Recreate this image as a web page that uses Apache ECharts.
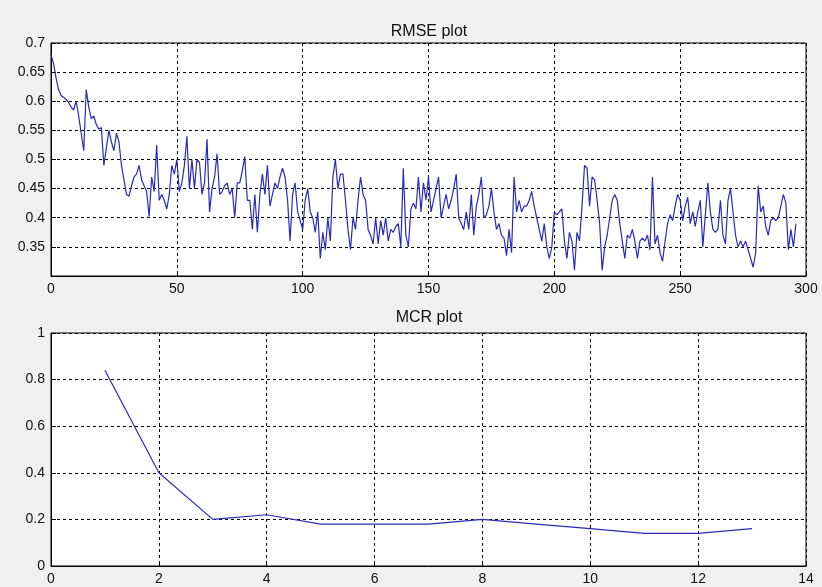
<!DOCTYPE html>
<html>
<head>
<meta charset="utf-8">
<script src="https://cdn.jsdelivr.net/npm/echarts@6/dist/echarts.min.js"></script>
<style>
	html, body { margin: 0; padding: 0; background: #f0f0f0; }
	#show { width: 822px; height: 587px; }
</style>
</head>
<body>
<div id="show"></div>
<script>
	// RMSE 数据 (x = 0..296)
	var rmseData = [
		0.68,0.665,0.64,0.62,0.61,0.607,0.603,0.598,0.59,0.585,
		0.60,0.575,0.545,0.515,0.62,0.59,0.57,0.575,0.56,0.552,
		0.555,0.49,0.52,0.55,0.53,0.515,0.545,0.53,0.49,0.465,
		0.44,0.437,0.455,0.47,0.475,0.49,0.465,0.455,0.445,0.402,
		0.47,0.445,0.525,0.43,0.44,0.43,0.415,0.44,0.49,0.475,
		0.5,0.445,0.46,0.49,0.54,0.45,0.5,0.45,0.5,0.495,
		0.44,0.46,0.535,0.41,0.45,0.47,0.51,0.44,0.445,0.455,
		0.46,0.44,0.45,0.40,0.46,0.46,0.48,0.505,0.43,0.43,
		0.38,0.44,0.375,0.44,0.475,0.44,0.49,0.42,0.44,0.46,
		0.45,0.47,0.485,0.47,0.43,0.36,0.44,0.46,0.41,0.395,
		0.38,0.43,0.45,0.41,0.40,0.375,0.41,0.33,0.375,0.345,
		0.40,0.36,0.47,0.50,0.45,0.475,0.475,0.43,0.38,0.345,
		0.40,0.38,0.43,0.47,0.44,0.43,0.38,0.37,0.355,0.40,
		0.355,0.395,0.37,0.40,0.36,0.38,0.375,0.385,0.39,0.35,
		0.485,0.37,0.35,0.415,0.425,0.415,0.47,0.41,0.46,0.43,
		0.47,0.41,0.43,0.45,0.47,0.40,0.42,0.44,0.415,0.43,
		0.45,0.475,0.40,0.39,0.38,0.41,0.38,0.44,0.37,0.42,
		0.44,0.47,0.40,0.405,0.42,0.45,0.41,0.38,0.39,0.37,
		0.365,0.335,0.38,0.34,0.47,0.41,0.43,0.41,0.42,0.42,
		0.43,0.445,0.42,0.40,0.38,0.36,0.39,0.35,0.33,0.35,
		0.41,0.405,0.41,0.415,0.36,0.33,0.375,0.36,0.31,0.375,
		0.36,0.42,0.49,0.485,0.42,0.47,0.465,0.43,0.39,0.31,
		0.35,0.37,0.40,0.43,0.44,0.43,0.39,0.36,0.33,0.37,
		0.365,0.38,0.36,0.33,0.36,0.365,0.36,0.37,0.345,0.47,
		0.355,0.37,0.34,0.325,0.36,0.39,0.405,0.395,0.42,0.44,
		0.43,0.395,0.42,0.435,0.39,0.41,0.385,0.41,0.43,0.35,
		0.405,0.46,0.41,0.38,0.375,0.38,0.43,0.37,0.355,0.43,
		0.45,0.41,0.37,0.35,0.36,0.35,0.36,0.345,0.33,0.315,
		0.34,0.455,0.41,0.42,0.385,0.37,0.395,0.40,0.395,0.40,
		0.42,0.44,0.425,0.345,0.38,0.35,0.39
	];

	// MCR 数据
	var mcrX = [1, 2, 3, 4, 5, 6, 7, 8, 9, 10, 11, 12, 13];
	var mcrY = [0.84, 0.40, 0.20, 0.22, 0.18, 0.18, 0.18, 0.20, 0.18, 0.16, 0.14, 0.14, 0.16];

	var titles = ['RMSE plot', 'MCR plot'];

	var rmsePoints = [];
	for (var i = 0; i < rmseData.length; i++) {
		rmsePoints.push([i, rmseData[i]]);
	}
	var mcrPoints = [];
	for (var i = 0; i < mcrX.length; i++) {
		mcrPoints.push([mcrX[i], mcrY[i]]);
	}

	var font = 'Liberation Sans, Arial, sans-serif';
	var lineColor = '#2a2aba';

	function makeAxis(idx, min, max, interval, fmt) {
		return {
			type: 'value',
			gridIndex: idx,
			min: min,
			max: max,
			interval: interval,
			axisLine: { show: true, lineStyle: { color: '#000', width: 1 } },
			axisTick: { show: true, inside: true, length: 5, lineStyle: { color: '#000' } },
			axisLabel: { color: '#111', fontSize: 14, fontFamily: font, margin: 6, formatter: fmt },
			splitLine: { show: true, lineStyle: { color: '#000', type: [3, 3], width: 1 } }
		};
	}

	var myEchart = echarts.init(document.getElementById('show'));

	var option = {
		backgroundColor: '#f0f0f0',
		animation: false,
		title: [{
			text: titles[0],
			left: 424,
			top: 19,
			textAlign: 'center',
			textStyle: { fontSize: 16, fontWeight: 'normal', color: '#111', fontFamily: font }
		}, {
			text: titles[1],
			left: 424,
			top: 305,
			textAlign: 'center',
			textStyle: { fontSize: 16, fontWeight: 'normal', color: '#111', fontFamily: font }
		}],
		grid: [{
			left: 51, right: 16, top: 43, height: 233,
			show: true, backgroundColor: '#fff', borderColor: '#000', borderWidth: 1
		}, {
			left: 51, right: 16, top: 333, height: 233,
			show: true, backgroundColor: '#fff', borderColor: '#000', borderWidth: 1
		}],
		xAxis: [
			makeAxis(0, 0, 300, 50),
			makeAxis(1, 0, 14, 2)
		],
		yAxis: [
			makeAxis(0, 0.3, 0.7, 0.05, function (v) {
				// 0.3 不显示
				if (v < 0.31) return '';
				return String(Math.round(v * 100) / 100);
			}),
			makeAxis(1, 0, 1, 0.2, function (v) {
				return String(Math.round(v * 10) / 10);
			})
		],
		series: [{
			type: 'line',
			xAxisIndex: 0,
			yAxisIndex: 0,
			data: rmsePoints,
			showSymbol: false,
			sampling: null,
			lineStyle: { color: lineColor, width: 1.2 }
		}, {
			type: 'line',
			xAxisIndex: 1,
			yAxisIndex: 1,
			data: mcrPoints,
			showSymbol: false,
			lineStyle: { color: lineColor, width: 1.2 }
		}]
	};

	myEchart.setOption(option);
</script>
</body>
</html>
